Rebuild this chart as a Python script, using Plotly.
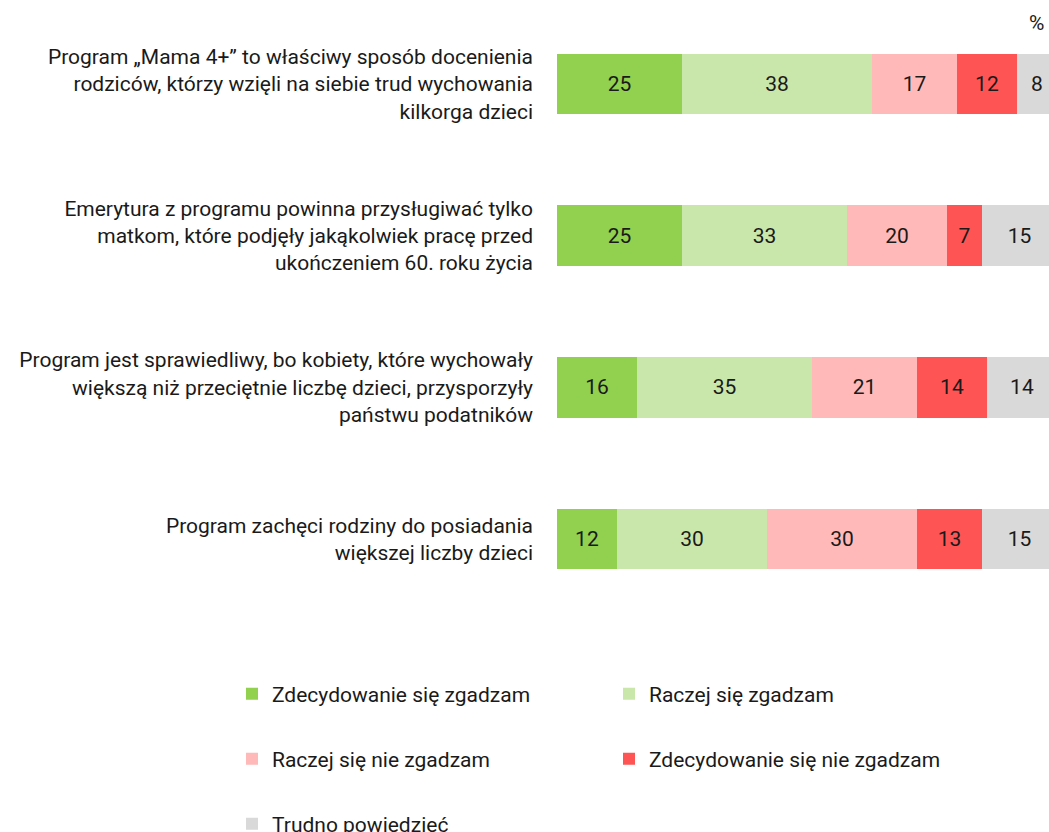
import plotly.graph_objects as go

categories = [
    "Program „Mama 4+” to właściwy sposób docenienia<br>rodziców, którzy wzięli na siebie trud wychowania<br>kilkorga dzieci",
    "Emerytura z programu powinna przysługiwać tylko<br>matkom, które podjęły jakąkolwiek pracę przed<br>ukończeniem 60. roku życia",
    "Program jest sprawiedliwy, bo kobiety, które wychowały<br>większą niż przeciętnie liczbę dzieci, przysporzyły<br>państwu podatników",
    "Program zachęci rodziny do posiadania<br>większej liczby dzieci",
]
series_names = [
    "Zdecydowanie się zgadzam",
    "Raczej się zgadzam",
    "Raczej się nie zgadzam",
    "Zdecydowanie się nie zgadzam",
    "Trudno powiedzieć",
]
zdecydowanie_tak = [25, 25, 16, 12]
raczej_tak = [38, 33, 35, 30]
raczej_nie = [17, 20, 21, 30]
zdecydowanie_nie = [12, 7, 14, 13]
trudno = [8, 15, 14, 15]
series_values = [zdecydowanie_tak, raczej_tak, raczej_nie, zdecydowanie_nie, trudno]
colors = ["#92d050", "#c9e7aa", "#ffb9b9", "#ff5454", "#d9d9d9"]

FONT = "Roboto, Arial, sans-serif"
FS = 21
TXT = "#1a1a1a"
W, H = 1049, 832
ML, MR, MT, MB = 557, 0, 8, 217
pw, ph = W - ML - MR, H - MT - MB
PX_PER_PCT = 5.0  # the reference bars run past the right edge of the picture
XMAX = pw / PX_PER_PCT

def px_x(x):
    return (x - ML) / pw

def px_y(y):
    return (H - MB - y) / ph

fig = go.Figure()
legend_pos = [(232, 694), (609, 694), (232, 759), (609, 759), (232, 824)]
legend_keys = ["legend", "legend2", "legend3", "legend4", "legend5"]
for i, (name, vals, col) in enumerate(zip(series_names, series_values, colors)):
    fig.add_trace(go.Bar(
        y=categories, x=vals, name=name, orientation="h",
        marker=dict(color=col, line=dict(width=0)),
        text=[str(v) for v in vals], textposition="inside",
        insidetextanchor="middle", textangle=0,
        textfont=dict(family=FONT, size=FS, color=TXT),
        legend=legend_keys[i], hoverinfo="skip", showlegend=True,
    ))

layout_legends = {}
for key, (lx, ly) in zip(legend_keys, legend_pos):
    layout_legends[key] = dict(
        x=px_x(lx), y=px_y(ly), xanchor="left", yanchor="middle",
        orientation="h", font=dict(family=FONT, size=FS, color=TXT),
        bgcolor="rgba(0,0,0,0)", borderwidth=0,
    )

fig.update_layout(
    width=W, height=H, barmode="stack", bargap=0.6, showlegend=True,
    margin=dict(l=ML, r=MR, t=MT, b=MB, pad=0, autoexpand=False),
    paper_bgcolor="white", plot_bgcolor="white",
    font=dict(family=FONT, size=FS, color=TXT),
    xaxis=dict(range=[0, XMAX], visible=False, fixedrange=True),
    yaxis=dict(categoryorder="array", categoryarray=categories,
               range=[3.5, -0.5], showgrid=False, zeroline=False,
               showline=False, ticks="", ticklabelstandoff=23,
               tickfont=dict(family=FONT, size=FS, color=TXT)),
    annotations=[dict(text="%", x=px_x(1036), y=px_y(23), xref="paper", yref="paper",
                      xanchor="center", yanchor="middle",
                      showarrow=False, font=dict(family=FONT, size=FS, color=TXT))],
    **layout_legends,
)

fig.write_html(
    "out.html",
    config={"displayModeBar": False},
    post_script="document.documentElement.style.overflow='hidden';document.body.style.overflow='hidden';document.body.style.margin='0';",
)
